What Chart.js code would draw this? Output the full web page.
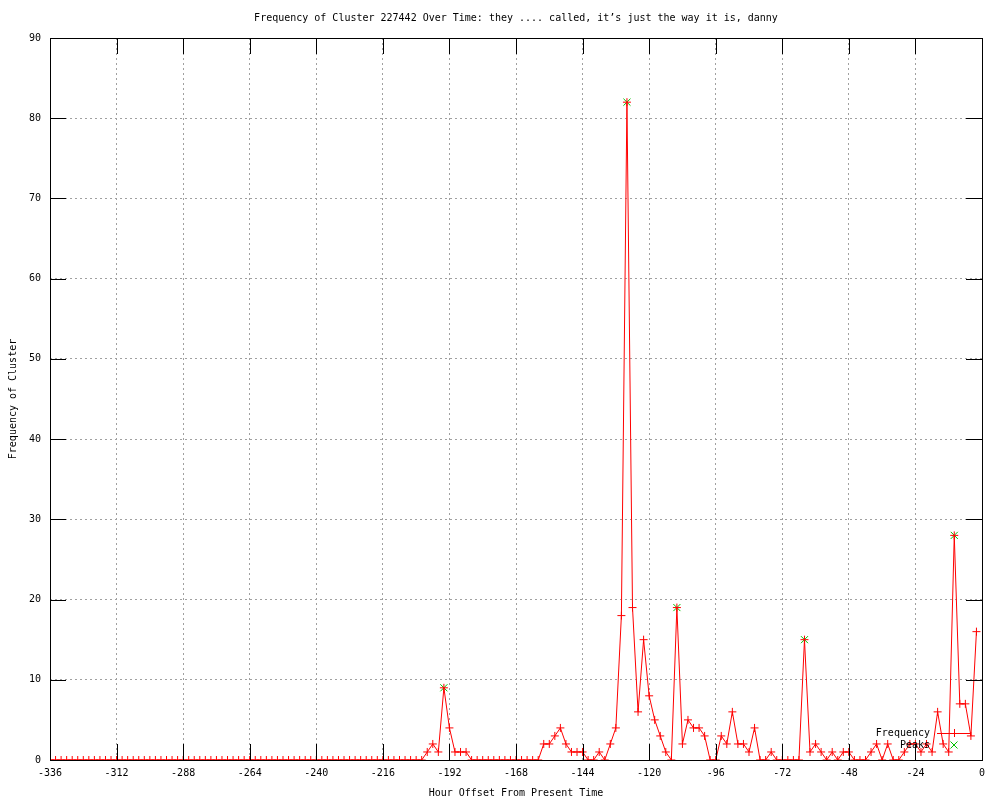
<!DOCTYPE html>
<html>
<head>
<meta charset="utf-8">
<title>Frequency of Cluster 227442</title>
<script src="https://cdn.jsdelivr.net/npm/chart.js@4.4.1/dist/chart.umd.min.js"></script>
<style>
html, body { margin: 0; padding: 0; background: #fff; }
#wrap { width: 1000px; height: 800px; }
</style>
</head>
<body>
<div id="wrap"><canvas id="myChart" width="1000" height="800"></canvas></div>
<script>
var hours = [
    -336,-334,-332,-330,-328,-326,-324,-322,-320,-318,-316,-314,
    -312,-310,-308,-306,-304,-302,-300,-298,-296,-294,-292,-290,
    -288,-286,-284,-282,-280,-278,-276,-274,-272,-270,-268,-266,
    -264,-262,-260,-258,-256,-254,-252,-250,-248,-246,-244,-242,
    -240,-238,-236,-234,-232,-230,-228,-226,-224,-222,-220,-218,
    -216,-214,-212,-210,-208,-206,-204,-202,-200,-198,-196,-194,
    -192,-190,-188,-186,-184,-182,-180,-178,-176,-174,-172,-170,
    -168,-166,-164,-162,-160,-158,-156,-154,-152,-150,-148,-146,
    -144,-142,-140,-138,-136,-134,-132,-130,-128,-126,-124,-122,
    -120,-118,-116,-114,-112,-110,-108,-106,-104,-102,-100,-98,
    -96,-94,-92,-90,-88,-86,-84,-82,-80,-78,-76,-74,
    -72,-70,-68,-66,-64,-62,-60,-58,-56,-54,-52,-50,
    -48,-46,-44,-42,-40,-38,-36,-34,-32,-30,-28,-26,
    -24,-22,-20,-18,-16,-14,-12,-10,-8,-6,-4,-2
];
var frequency = [
    0,0,0,0,0,0,0,0,0,0,0,0,
    0,0,0,0,0,0,0,0,0,0,0,0,
    0,0,0,0,0,0,0,0,0,0,0,0,
    0,0,0,0,0,0,0,0,0,0,0,0,
    0,0,0,0,0,0,0,0,0,0,0,0,
    0,0,0,0,0,0,0,0,1,2,1,9,
    4,1,1,1,0,0,0,0,0,0,0,0,
    0,0,0,0,0,2,2,3,4,2,1,1,
    1,0,0,1,0,2,4,18,82,19,6,15,
    8,5,3,1,0,19,2,5,4,4,3,0,
    0,3,2,6,2,2,1,4,0,0,1,0,
    0,0,0,0,15,1,2,1,0,1,0,1,
    1,0,0,0,1,2,0,2,0,0,1,2,
    2,1,2,1,6,2,1,28,7,7,3,16
];
var peakHours = [-194, -128, -110, -64, -10];
var peakValues = [9, 82, 19, 15, 28];
var xTicks = [-336, -312, -288, -264, -240, -216, -192, -168, -144, -120, -96, -72, -48, -24, 0];
var yTicks = [0, 10, 20, 30, 40, 50, 60, 70, 80, 90];

var titleText = "Frequency of Cluster 227442 Over Time: they .... called, it\u2019s just the way it is, danny";
var xTitle = "Hour Offset From Present Time";
var yTitle = "Frequency of Cluster";
var FONT = '10px "DejaVu Sans Mono"';

function toPoints(xs, ys){
    return xs.map(function(x, i){ return {x: x, y: ys[i]}; });
}

// gnuplot style frame, inward ticks, titles and the little key
var gnuplotFrame = {
    id: 'gnuplotFrame',
    afterDatasetsDraw: function(chart){
        var ctx = chart.ctx, a = chart.chartArea;
        var xs = chart.scales.x, ys = chart.scales.y;
        var tl = 16;
        ctx.save();
        ctx.strokeStyle = '#000';
        ctx.lineWidth = 1;
        ctx.beginPath();
        xTicks.forEach(function(t){
            var px = Math.round(xs.getPixelForValue(t)) + 0.5;
            ctx.moveTo(px, a.bottom); ctx.lineTo(px, a.bottom - tl);
            ctx.moveTo(px, a.top); ctx.lineTo(px, a.top + tl);
        });
        yTicks.forEach(function(t){
            var py = Math.round(ys.getPixelForValue(t)) + 0.5;
            ctx.moveTo(a.left, py); ctx.lineTo(a.left + tl, py);
            ctx.moveTo(a.right, py); ctx.lineTo(a.right - tl, py);
        });
        ctx.stroke();
        ctx.strokeRect(a.left + 0.5, a.top + 0.5, a.right - a.left, a.bottom - a.top);

        // key
        var kx = a.right - 52, ky = a.bottom - 27;
        ctx.font = FONT;
        ctx.fillStyle = '#000';
        ctx.textAlign = 'right';
        ctx.textBaseline = 'middle';
        ctx.fillText('Frequency', kx, ky);
        ctx.fillText('Peaks', kx, ky + 12);
        ctx.strokeStyle = '#ff0000';
        ctx.beginPath();
        ctx.moveTo(kx + 7, ky + 0.5); ctx.lineTo(kx + 41, ky + 0.5);
        ctx.moveTo(kx + 24.5, ky - 4); ctx.lineTo(kx + 24.5, ky + 4);
        ctx.stroke();
        ctx.strokeStyle = '#00c000';
        ctx.beginPath();
        ctx.moveTo(kx + 20.5, ky + 8.5); ctx.lineTo(kx + 27.5, ky + 15.5);
        ctx.moveTo(kx + 27.5, ky + 8.5); ctx.lineTo(kx + 20.5, ky + 15.5);
        ctx.stroke();
        ctx.restore();
    },
    afterDraw: function(chart){
        var ctx = chart.ctx, a = chart.chartArea;
        var cx = (a.left + a.right) / 2;
        ctx.save();
        ctx.font = FONT;
        ctx.fillStyle = '#000';
        ctx.textAlign = 'center';
        ctx.textBaseline = 'middle';
        ctx.fillText(titleText, cx, 18);
        ctx.fillText(xTitle, cx, 793);
        ctx.translate(13, (a.top + a.bottom) / 2);
        ctx.rotate(-Math.PI / 2);
        ctx.fillText(yTitle, 0, 0);
        ctx.restore();
    }
};

function initChart(){
    new Chart(document.getElementById('myChart'), {
        type: 'line',
        data: {
            datasets: [{
                label: 'Frequency',
                data: toPoints(hours, frequency),
                borderColor: '#ff0000',
                borderWidth: 1,
                pointStyle: 'cross',
                pointRadius: 4,
                pointBorderWidth: 1,
                pointBorderColor: '#ff0000',
                pointBackgroundColor: '#ff0000',
                tension: 0,
                fill: false
            }, {
                label: 'Peaks',
                data: toPoints(peakHours, peakValues),
                showLine: false,
                borderColor: '#00c000',
                pointStyle: 'crossRot',
                pointRadius: 5,
                pointBorderWidth: 1,
                pointBorderColor: '#00c000'
            }]
        },
        options: {
            responsive: false,
            animation: false,
            devicePixelRatio: 1,
            layout: { padding: { top: 38, right: 18, left: 0, bottom: 0 } },
            plugins: {
                legend: { display: false },
                title: { display: false },
                tooltip: { enabled: false }
            },
            scales: {
                x: {
                    type: 'linear',
                    min: -336,
                    max: 0,
                    afterBuildTicks: function(scale){
                        scale.ticks = xTicks.map(function(v){ return {value: v}; });
                    },
                    afterFit: function(scale){ scale.height = 40; },
                    grid: { color: '#a0a0a0', lineWidth: 1, drawTicks: false },
                    border: { display: false, dash: [2, 3] },
                    ticks: {
                        color: '#000',
                        padding: 7,
                        maxRotation: 0,
                        autoSkip: false,
                        font: { family: 'DejaVu Sans Mono', size: 10 },
                        callback: function(v){ return String(v); }
                    }
                },
                y: {
                    type: 'linear',
                    min: 0,
                    max: 90,
                    afterBuildTicks: function(scale){
                        scale.ticks = yTicks.map(function(v){ return {value: v}; });
                    },
                    afterFit: function(scale){ scale.width = 50; },
                    grid: { color: '#a0a0a0', lineWidth: 1, drawTicks: false },
                    border: { display: false, dash: [2, 3] },
                    ticks: {
                        color: '#000',
                        padding: 9,
                        autoSkip: false,
                        font: { family: 'DejaVu Sans Mono', size: 10 },
                        callback: function(v){ return String(v); }
                    }
                }
            }
        },
        plugins: [gnuplotFrame]
    });
}

initChart();
</script>
</body>
</html>
